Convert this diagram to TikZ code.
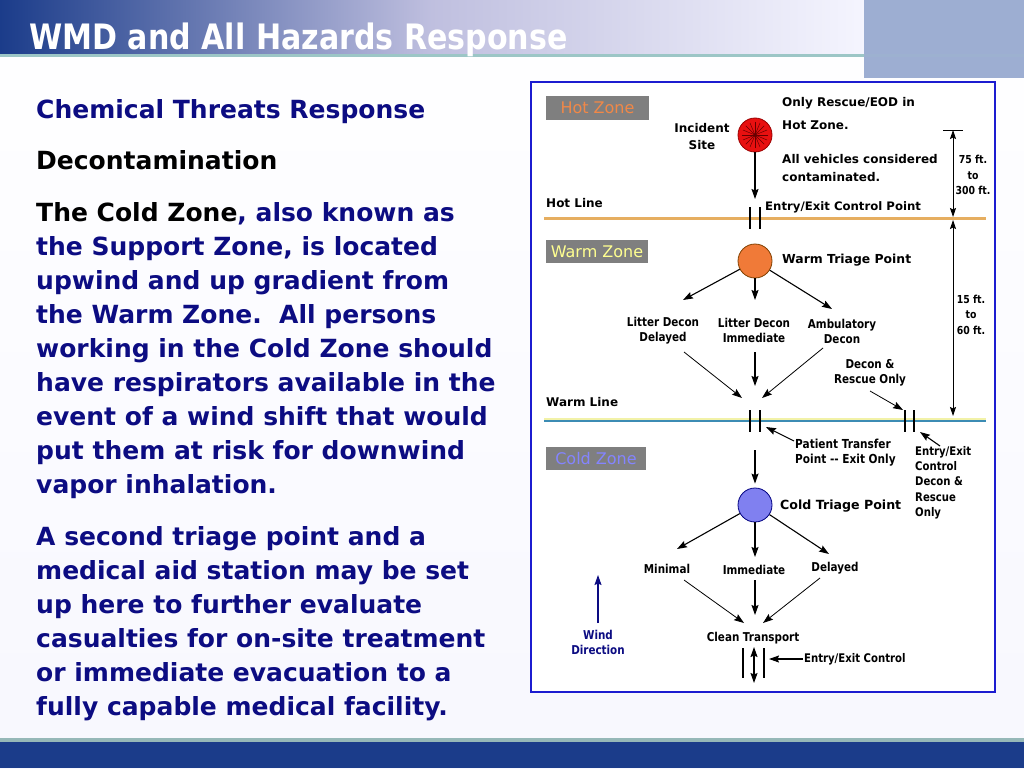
\documentclass[tikz,border=0pt]{standalone}
\usepackage{fontspec}
\setmainfont{DejaVu Sans}
\newfontfamily\tfont{DejaVu Sans}[FakeStretch=0.86]
\newfontfamily\dfont{DejaVu Sans}
\newfontfamily\nfont{DejaVu Sans}[FakeStretch=0.85]
\usetikzlibrary{arrows.meta,calc}
\definecolor{navyc}{HTML}{0C0C82}
\definecolor{barblue}{HTML}{1B3C8A}
\definecolor{blockc}{HTML}{9DAED2}
\definecolor{tealc}{HTML}{9CC6C6}
\definecolor{framec}{HTML}{1C1CD0}
\definecolor{zonegray}{HTML}{7F7F7F}
\definecolor{hotc}{HTML}{F08848}
\definecolor{warmc}{HTML}{FFFF90}
\definecolor{coldc}{HTML}{8484FF}
\definecolor{hotline}{HTML}{E6AE60}
\definecolor{warmline}{HTML}{3C8CB4}
\definecolor{warmlite}{HTML}{F2F2A8}
\definecolor{redc}{HTML}{E81010}
\definecolor{orangec}{HTML}{F07A38}
\definecolor{bluec}{HTML}{8080F0}
\tikzset{
  dtext/.style={font=\nfont\bfseries\fontsize{12.2}{15}\selectfont, inner sep=1pt, align=center},
  ltext/.style={font=\dfont\bfseries\fontsize{12}{15}\selectfont, inner sep=1pt, align=left, anchor=west},
  stext/.style={font=\nfont\bfseries\fontsize{11.9}{15.3}\selectfont, inner sep=1pt, align=left, anchor=west},
  ntext/.style={font=\nfont\bfseries\fontsize{11}{15.5}\selectfont, inner sep=1pt, align=center},
  zonebox/.style={fill=zonegray, font=\dfont\fontsize{16}{16}\selectfont, inner sep=0pt},
  zcircle/.style={circle, minimum size=34pt, inner sep=0pt, line width=0.8pt},
  arr/.style={draw, line width=1.1pt, -{Stealth[length=10pt,width=7pt,inset=1.5pt]}},
  thinarr/.style={draw, line width=0.8pt, -{Stealth[length=10pt,width=7pt,inset=1.5pt]}},
  gatebar/.style={draw, line width=1.8pt},
  body/.style={font=\bfseries\fontsize{25}{34}\selectfont, align=left, anchor=base west, inner sep=0pt, text=navyc}
}
\begin{document}
\begin{tikzpicture}[x=1pt,y=-1pt]
\useasboundingbox (0,0) rectangle (1024,768);
% slide background
\shade[top color=white, bottom color=black!9!blue!3] (0,0) rectangle (1024,768);
% title bar
\shade[left color=barblue, right color=black!6!blue!4, middle color=blue!50!black!25] (0,0) rectangle (864,55);
\fill[blockc] (864,0) rectangle (1024,78);
\fill[tealc] (0,54) rectangle (1024,57.5);
\fill[blockc!85!tealc] (864,54) rectangle (1024,57.5);
\node[font=\tfont\bfseries\fontsize{35}{35}\selectfont, text=white, anchor=base west, inner sep=0pt] (title) at (29,49) {WMD and All Hazards Response};
% bottom bar
\fill[tealc!80!gray] (0,738) rectangle (1024,742);
\fill[barblue] (0,742) rectangle (1024,768);
% left text
\node[body] (h1) at (36,118) {Chemical Threats Response};
\node[body, text=black] (h2) at (36,169) {Decontamination};
\node[body] (p1) at (36,493) {\textcolor{black}{The Cold Zone}, also known as\\the Support Zone, is located\\upwind and up gradient from\\the Warm Zone.\ \ All persons\\working in the Cold Zone should\\have respirators available in the\\event of a wind shift that would\\put them at risk for downwind\\vapor inhalation.};
\node[body] (p2) at (36,715) {A second triage point and a\\medical aid station may be set\\up here to further evaluate\\casualties for on-site treatment\\or immediate evacuation to a\\fully capable medical facility.};
% diagram frame
\draw[framec, fill=white, line width=1.6pt] (531,82) rectangle (995,692);
% zone boxes
\node[zonebox, text=hotc, minimum width=103pt, minimum height=24pt] (hz) at (597.5,108) {Hot Zone};
\node[zonebox, text=warmc, minimum width=102pt, minimum height=23pt] (wz) at (597,251.5) {Warm Zone};
\node[zonebox, text=coldc, minimum width=100pt, minimum height=23pt] (cz) at (596,458.5) {Cold Zone};
% zone lines
\coordinate (hl-l) at (544,218); \coordinate (hl-r) at (986,218);
\draw[hotline, line width=3pt] (hl-l) -- (hl-r);
\coordinate (wl-l) at (544,421); \coordinate (wl-r) at (986,421);
\draw[warmlite, line width=2pt] ([yshift=2.5pt]wl-l) -- ([yshift=2.5pt]wl-r);
\draw[warmline, line width=2.5pt] (wl-l) -- (wl-r);
\node[ltext] (hotl) at (545,203) {Hot Line};
\node[ltext] (warml) at (545,402) {Warm Line};
% gates
\draw[gatebar] (750,207) -- (750,229) (760,207) -- (760,229);
\draw[gatebar] (750,410) -- (750,432) (760,410) -- (760,432);
\draw[gatebar] (905,410) -- (905,432) (914,410) -- (914,432);
% incident site
\node[zcircle, fill=redc, draw=red!60!black] (inc) at (755,135) {};
\foreach \a in {0,22.5,...,157.5} \draw[red!40!black, line width=0.5pt] ($(inc)+(\a:13)$) -- ($(inc)+(\a+180:13)$);
\node[dtext, font=\dfont\bfseries\fontsize{12}{17}\selectfont] (incl) at (702,136.5) {Incident\\Site};
\node[ltext] (n1) at (781,103) {Only Rescue/EOD in};
\node[ltext] (n2) at (781,125) {Hot Zone.};
\node[ltext, font=\dfont\bfseries\fontsize{12}{18}\selectfont] (n3) at (781,168) {All vehicles considered\\contaminated.};
\coordinate (g1) at (755,199);
\draw[arr] (inc) -- (g1);
\node[ltext, font=\dfont\bfseries\fontsize{11.7}{15}\selectfont] (ecp) at (764,207) {Entry/Exit Control Point};
% dimensions
\coordinate (d1t) at (953,130); \coordinate (d1b) at (953,217);
\coordinate (d2t) at (953,220); \coordinate (d2b) at (953,416);
\draw[line width=1pt] (943,130) -- (963,130);
\draw[thinarr, {Stealth[length=9pt,width=6pt,inset=1.5pt]}-{Stealth[length=9pt,width=6pt,inset=1.5pt]}] (d1t) -- (d1b);
\draw[thinarr, {Stealth[length=9pt,width=6pt,inset=1.5pt]}-{Stealth[length=9pt,width=6pt,inset=1.5pt]}] (d2t) -- (d2b);
\node[ntext] (dim1) at (973,175) {75 ft.\\to\\300 ft.};
\node[ntext] (dim2) at (971,314.5) {15 ft.\\to\\60 ft.};
% warm triage
\node[zcircle, fill=orangec, draw=orange!50!black] (wt) at (755,261) {};
\node[ltext, font=\dfont\bfseries\fontsize{12.4}{15}\selectfont] (wtl) at (781,260) {Warm Triage Point};
\coordinate (a1) at (683,300); \coordinate (a2) at (755,300); \coordinate (a3) at (832,309);
\draw[arr] (wt) -- (a1);
\draw[arr] (wt) -- (a2);
\draw[arr] (wt) -- (a3);
\node[dtext] (ldd) at (663,330.5) {Litter Decon\\Delayed};
\node[dtext] (ldi) at (754,330.5) {Litter Decon\\Immediate};
\node[dtext] (amb) at (842,331.5) {Ambulatory\\Decon};
\coordinate (b1) at (742,398); \coordinate (b2) at (755,386); \coordinate (b3) at (762,398);
\draw[thinarr] (684,352) -- (b1);
\draw[arr] (755,352) -- (b2);
\draw[thinarr] (823,348) -- (b3);
\node[dtext] (dro) at (870,372.5) {Decon \&\\Rescue Only};
\coordinate (b4) at (903,410);
\draw[thinarr] (870,391) -- (b4);
% warm line labels
\node[stext, font=\nfont\bfseries\fontsize{12.4}{15}\selectfont, anchor=north west] (ptl) at (794,438) {Patient Transfer\\Point -- Exit Only};
\coordinate (c1) at (766,427);
\draw[arr] (794,441) -- (c1);
\node[stext, anchor=north west] (eec) at (914,445) {Entry/Exit\\Control\\Decon \&\\Rescue\\Only};
\coordinate (c2) at (920,432);
\draw[arr] (940,446) -- (c2);
% cold triage
\node[zcircle, fill=bluec, draw=blue!50!black] (ct) at (755,505) {};
\node[ltext, font=\dfont\bfseries\fontsize{12.6}{15}\selectfont] (ctl) at (779,506) {Cold Triage Point};
\coordinate (g2b) at (755,450);
\draw[arr, shorten >=4pt] (g2b) -- (ct);
\coordinate (e1) at (677,549); \coordinate (e2) at (755,557); \coordinate (e3) at (829,554);
\draw[arr] (ct) -- (e1);
\draw[arr] (ct) -- (e2);
\draw[arr] (ct) -- (e3);
\node[dtext] (mi) at (667,569) {Minimal};
\node[dtext] (im) at (754,570) {Immediate};
\node[dtext] (de) at (835,568) {Delayed};
\coordinate (f1) at (744,623); \coordinate (f2) at (755,615); \coordinate (f3) at (763,623);
\draw[thinarr] (684,580) -- (f1);
\draw[arr] (755,580) -- (f2);
\draw[thinarr] (820,578) -- (f3);
\node[dtext] (clt) at (753,638) {Clean Transport};
\draw[gatebar] (743,648) -- (743,678) (764,648) -- (764,678);
\coordinate (h1t) at (754,647); \coordinate (h1b) at (754,683);
\draw[arr, {Stealth[length=10pt,width=7pt,inset=1.5pt]}-{Stealth[length=10pt,width=7pt,inset=1.5pt]}] (h1t) -- (h1b);
\node[stext] (eecl) at (803,659) {Entry/Exit Control};
\coordinate (c3) at (769,659);
\draw[arr] (eecl.west) -- (c3);
% wind
\coordinate (w1) at (598,575);
\node[dtext, text=navyc] (wind) at (598,642.5) {Wind\\Direction};
\draw[arr, navyc] (598,623) -- (w1);
\end{tikzpicture}
\end{document}
